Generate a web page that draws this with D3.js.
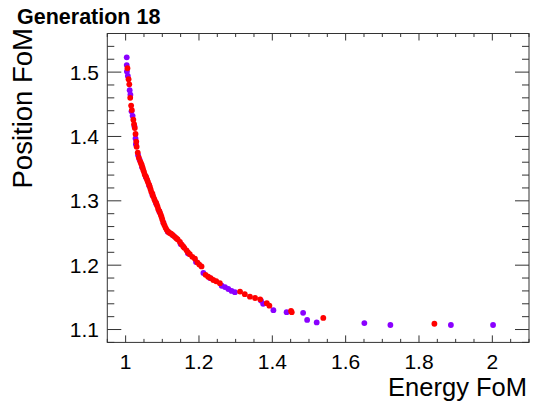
<!DOCTYPE html>
<html><head><meta charset="utf-8">
<script src="https://cdn.jsdelivr.net/npm/d3@7"></script>
<style>body{margin:0;background:#fff}svg{display:block}</style>
</head><body>
<svg id="c" width="533" height="401"></svg>
<script>
const title = "Generation 18";
const xTitle = "Energy FoM";
const yTitle = "Position FoM";
const xTickLabels = [1, 1.2, 1.4, 1.6, 1.8, 2];
const yTickLabels = [1.1, 1.2, 1.3, 1.4, 1.5];
const xDomain = [0.95, 2.1];
const yDomain = [1.08, 1.56];

const purpleX = [1.003,1.003,1.0035,1.006,1.011,1.013,1.016,1.019,1.024,1.027,1.028,1.034,1.038,1.045,1.055,1.064,1.073,1.083,1.092,1.103,1.115,1.130,1.150,1.170,1.192,1.212,1.230,1.262,1.271,1.280,1.289,1.298,1.369,1.375,1.403,1.439,1.484,1.495,1.521,1.651,1.722,1.887,2.002];
const purpleY = [1.523,1.511,1.501,1.494,1.472,1.465,1.439,1.432,1.416,1.397,1.388,1.371,1.364,1.352,1.337,1.324,1.309,1.296,1.283,1.266,1.252,1.246,1.233,1.218,1.205,1.188,1.180,1.168,1.166,1.163,1.160,1.158,1.145,1.140,1.130,1.127,1.126,1.115,1.111,1.110,1.107,1.107,1.107];

const redX = [1.005,1.008,1.010,1.0125,1.015,1.017,1.021,1.023,1.025,1.027,1.029,1.030,1.033,1.036,1.040,1.042,1.044,1.046,1.048,1.050,1.052,1.055,1.057,1.059,1.061,1.064,1.066,1.068,1.070,1.073,1.075,1.078,1.080,1.083,1.085,1.087,1.089,1.092,1.094,1.096,1.098,1.100,1.103,1.106,1.109,1.112,1.116,1.120,1.124,1.128,1.134,1.138,1.142,1.148,1.153,1.157,1.160,1.166,1.170,1.175,1.182,1.189,1.196,1.201,1.207,1.218,1.225,1.232,1.239,1.247,1.257,1.312,1.325,1.339,1.353,1.367,1.385,1.392,1.451,1.453,1.539,1.842];
const redY = [1.506,1.489,1.481,1.460,1.448,1.441,1.426,1.419,1.413,1.404,1.392,1.384,1.375,1.367,1.361,1.358,1.356,1.352,1.348,1.345,1.341,1.338,1.335,1.332,1.329,1.325,1.322,1.318,1.314,1.311,1.307,1.303,1.300,1.297,1.294,1.291,1.287,1.284,1.281,1.278,1.275,1.271,1.266,1.262,1.258,1.255,1.252,1.250,1.249,1.247,1.244,1.242,1.240,1.236,1.232,1.229,1.227,1.223,1.220,1.217,1.213,1.210,1.204,1.201,1.198,1.185,1.182,1.180,1.177,1.175,1.172,1.159,1.155,1.151,1.149,1.147,1.141,1.137,1.129,1.127,1.118,1.109];

const L = 107.3, R = 529, T = 33.5, B = 342.4;
const svg = d3.select("#c");
const x = d3.scaleLinear().domain(xDomain).range([L, R]);
const y = d3.scaleLinear().domain(yDomain).range([B, T]);
const font = "'Liberation Sans', Arial, Helvetica, sans-serif";
const axisColor = "#333";

// frame
svg.append("rect").attr("x", L).attr("y", T).attr("width", R - L).attr("height", B - T)
  .attr("fill", "none").attr("stroke", axisColor).attr("stroke-width", 1);

// ticks
const xMinor = d3.range(0, 24).map(i => +(0.95 + i * 0.05).toFixed(2)).filter(v => v <= 2.1);
const yMinor = d3.range(0, 25).map(i => +(1.08 + i * 0.02).toFixed(2)).filter(v => v <= 1.56);
const isMajX = v => Math.abs(v * 5 - Math.round(v * 5)) < 1e-6;
const isMajY = v => Math.abs(v * 10 - Math.round(v * 10)) < 1e-6;
const tk = svg.append("g").attr("stroke", axisColor).attr("stroke-width", 1);
xMinor.forEach(v => {
  const len = isMajX(v) ? 7 : 3.5;
  const px = x(v);
  tk.append("line").attr("x1", px).attr("x2", px).attr("y1", B).attr("y2", B - len);
  tk.append("line").attr("x1", px).attr("x2", px).attr("y1", T).attr("y2", T + len);
});
yMinor.forEach(v => {
  const len = isMajY(v) ? 14 : 7;
  const py = y(v);
  tk.append("line").attr("x1", L).attr("x2", L + len).attr("y1", py).attr("y2", py);
  tk.append("line").attr("x1", R).attr("x2", R - len).attr("y1", py).attr("y2", py);
});

// tick labels
svg.append("g").selectAll("text").data(xTickLabels).join("text")
  .attr("x", d => x(d)).attr("y", 369).attr("text-anchor", "middle")
  .attr("font-family", font).attr("font-size", 21).attr("fill", "#000")
  .text(d => d);
svg.append("g").selectAll("text").data(yTickLabels).join("text")
  .attr("x", 99).attr("y", d => y(d) + 7.5).attr("text-anchor", "end")
  .attr("font-family", font).attr("font-size", 21).attr("fill", "#000")
  .text(d => d.toFixed(1));

// points
const purple = purpleX.map((v, i) => [v, purpleY[i]]);
const red = redX.map((v, i) => [v, redY[i]]);
svg.append("g").selectAll("circle").data(purple).join("circle")
  .attr("cx", d => x(d[0])).attr("cy", d => y(d[1])).attr("r", 2.9).attr("fill", "#8a00ff");
svg.append("g").selectAll("circle").data(red).join("circle")
  .attr("cx", d => x(d[0])).attr("cy", d => y(d[1])).attr("r", 2.9).attr("fill", "#ff0000");

// titles
svg.append("text").attr("x", 17).attr("y", 24).attr("font-family", font)
  .attr("font-weight", "bold").attr("font-size", 21.5).text(title);
svg.append("text").attr("x", 527).attr("y", 396).attr("text-anchor", "end")
  .attr("font-family", font).attr("font-size", 25.5).text(xTitle);
svg.append("text").attr("transform", "translate(32,28) rotate(-90)").attr("text-anchor", "end")
  .attr("font-family", font).attr("font-size", 27.5).text(yTitle);
</script>
</body></html>
